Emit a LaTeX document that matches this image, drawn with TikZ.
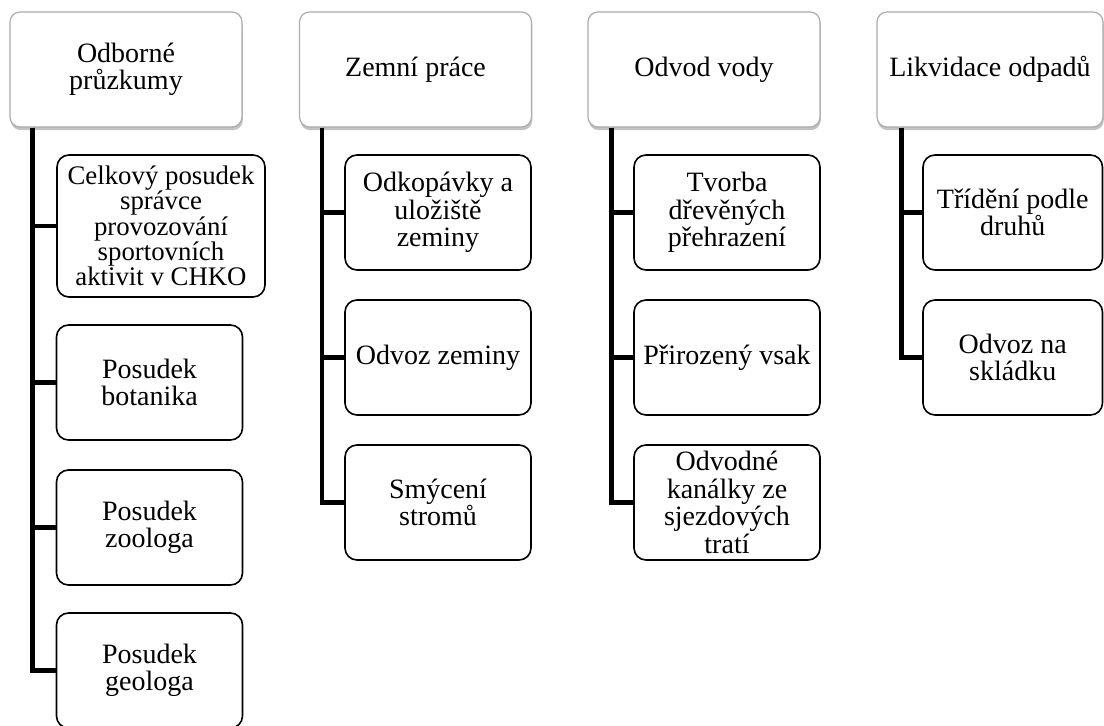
\documentclass[tikz,border=0pt]{standalone}
\usepackage{fontspec}
\setmainfont{Liberation Serif}
\usetikzlibrary{shadows}
\tikzset{headbox/.style={draw=gray!65, line width=0.6pt, fill=white, rounded corners=5pt, align=center, minimum width=116pt, minimum height=57.5pt, inner sep=1pt, font=\fontsize{14}{13.6}\selectfont, drop shadow={shadow xshift=0.4pt, shadow yshift=-1.6pt, fill=black!40, opacity=0.6}}}
\tikzset{itembox/.style={draw=black, line width=0.8pt, fill=white, rounded corners=6pt, align=center, minimum width=93pt, minimum height=57.5pt, inner sep=1pt, font=\fontsize{14}{13.8}\selectfont}}
\tikzset{trunk/.style={line width=2.2pt}}

\begin{document}
\begin{tikzpicture}[x=0.5pt,y=-0.5pt]
\useasboundingbox (0,0) rectangle (1104,726);
% headings
\node[headbox] (pruzkumy) at (126,69.5) {Odborné\\průzkumy};
\node[headbox] (zemni) at (415.5,69.5) {Zemní práce};
\node[headbox] (voda) at (704,69.5) {Odvod vody};
\node[headbox, minimum width=113pt] (odpady) at (990,69.5) {Likvidace odpadů};
% first column
\node[itembox, minimum width=104pt, minimum height=71pt, font=\fontsize{13.4}{12.6}\selectfont] (celkovy) at (161,226) {Celkový posudek\\správce\\provozování\\sportovních\\aktivit v CHKO};
\node[itembox] (botanik) at (149.5,382.5) {Posudek\\botanika};
\node[itembox] (zoolog) at (149.5,527.5) {Posudek\\zoologa};
\node[itembox] (geolog) at (149.5,670.5) {Posudek\\geologa};
\draw[trunk] ([xshift=11.5pt]pruzkumy.south west) |- (geolog.west);
\draw[trunk] ([xshift=11.5pt]pruzkumy.south west) |- (zoolog.west);
\draw[trunk] ([xshift=11.5pt]pruzkumy.south west) |- (botanik.west);
\draw[trunk] ([xshift=11.5pt]pruzkumy.south west) |- (celkovy.west);
% second column
\node[itembox] (odkop) at (438,212.5) {Odkopávky a\\uložiště\\zeminy};
\node[itembox] (odvozzem) at (438,357.5) {Odvoz zeminy};
\node[itembox] (smyceni) at (438,502.5) {Smýcení\\stromů};
\draw[trunk] ([xshift=11.5pt]zemni.south west) |- (smyceni.west);
\draw[trunk] ([xshift=11.5pt]zemni.south west) |- (odvozzem.west);
\draw[trunk] ([xshift=11.5pt]zemni.south west) |- (odkop.west);
% third column
\node[itembox] (tvorba) at (727,212.5) {Tvorba\\dřevěných\\přehrazení};
\node[itembox] (vsak) at (727,357.5) {Přirozený vsak};
\node[itembox] (kanalky) at (727,502.5) {Odvodné\\kanálky ze\\sjezdových\\tratí};
\draw[trunk] ([xshift=12pt]voda.south west) |- (kanalky.west);
\draw[trunk] ([xshift=12pt]voda.south west) |- (vsak.west);
\draw[trunk] ([xshift=12pt]voda.south west) |- (tvorba.west);
% fourth column
\node[itembox, minimum width=89.75pt] (trideni) at (1012.75,212.5) {Třídění podle\\druhů};
\node[itembox, minimum width=89.75pt] (skladka) at (1012.75,357.5) {Odvoz na\\skládku};
\draw[trunk] ([xshift=12.5pt]odpady.south west) |- (skladka.west);
\draw[trunk] ([xshift=12.5pt]odpady.south west) |- (trideni.west);
\end{tikzpicture}
\end{document}
